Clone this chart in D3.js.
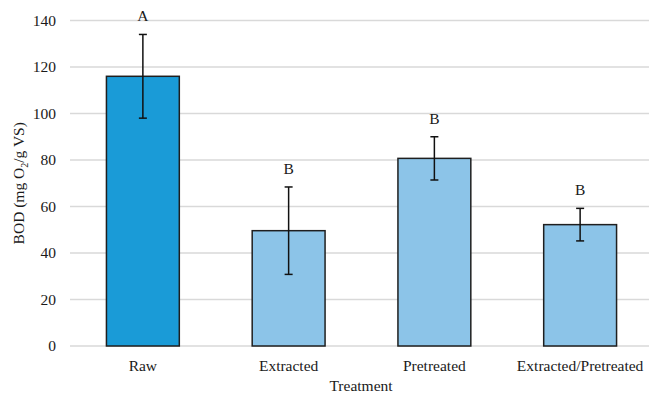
<!DOCTYPE html>
<html>
<head>
<meta charset="utf-8">
<script src="https://cdn.jsdelivr.net/npm/d3@7"></script>
<style>
  body { margin: 0; background: #fff; }
  text { font-family: "Liberation Serif", "Times New Roman", serif; fill: #1a1a1a; }
</style>
</head>
<body>
<svg></svg>
<script>
var screen = {width: 649, height: 394};
var margins = {top: 20.5, right: -4, bottom: 48, left: 70};

// data
var treatments = ["Raw", "Extracted", "Pretreated", "Extracted/Pretreated"];
var bod = [116, 49.6, 80.7, 52.2];
var errs = [18, 18.8, 9.3, 7];
var letters = ["A", "B", "B", "B"];
var yTicks = [0, 20, 40, 60, 80, 100, 120, 140];

var svg = d3.select("svg")
    .attr("width", screen.width)
    .attr("height", screen.height);

var width = screen.width - margins.left - margins.right;
var height = screen.height - margins.top - margins.bottom;

var xScale = d3.scaleBand()
    .domain(treatments)
    .range([0, width])
    .paddingInner(0.5)
    .paddingOuter(0.25);

var yScale = d3.scaleLinear()
    .domain([0, 140])
    .range([height, 0]);

var g = svg.append("g")
    .attr("transform", "translate(" + margins.left + "," + margins.top + ")");

// gridlines
g.append("g").selectAll("line")
    .data(yTicks)
    .enter().append("line")
    .attr("x1", 0)
    .attr("x2", width)
    .attr("y1", function(d) { return yScale(d); })
    .attr("y2", function(d) { return yScale(d); })
    .attr("stroke", "#d9d9d9")
    .attr("stroke-width", 1.5);

// y axis labels
var yAxis = d3.axisLeft(yScale).tickValues(yTicks).tickSize(0).tickPadding(14);
g.append("g")
    .call(yAxis)
    .call(function(a) { a.select(".domain").remove(); })
    .selectAll("text")
    .attr("font-size", 15.5)
    .style("font-family", "'Liberation Serif', serif")
    .attr("fill", "#1a1a1a");

// bars
g.append("g").selectAll("rect")
    .data(treatments)
    .enter().append("rect")
    .attr("x", function(d) { return xScale(d); })
    .attr("y", function(d, i) { return yScale(bod[i]); })
    .attr("width", xScale.bandwidth())
    .attr("height", function(d, i) { return height - yScale(bod[i]); })
    .attr("fill", function(d, i) { return i == 0 ? "#1a9bd7" : "#8cc4e8"; })
    .attr("stroke", "#1f1f1f")
    .attr("stroke-width", 1.5);

// error bars
var eb = g.append("g").selectAll("g")
    .data(treatments)
    .enter().append("g")
    .attr("transform", function(d) { return "translate(" + (xScale(d) + xScale.bandwidth() / 2) + ",0)"; });

eb.append("line")
    .attr("y1", function(d, i) { return yScale(bod[i] + errs[i]); })
    .attr("y2", function(d, i) { return yScale(bod[i] - errs[i]); })
    .attr("stroke", "#111")
    .attr("stroke-width", 1.5);

eb.append("line")
    .attr("x1", -4).attr("x2", 4)
    .attr("y1", function(d, i) { return yScale(bod[i] + errs[i]); })
    .attr("y2", function(d, i) { return yScale(bod[i] + errs[i]); })
    .attr("stroke", "#111")
    .attr("stroke-width", 1.5);

eb.append("line")
    .attr("x1", -4).attr("x2", 4)
    .attr("y1", function(d, i) { return yScale(bod[i] - errs[i]); })
    .attr("y2", function(d, i) { return yScale(bod[i] - errs[i]); })
    .attr("stroke", "#111")
    .attr("stroke-width", 1.5);

// significance letters
eb.append("text")
    .attr("y", function(d, i) { return yScale(bod[i] + errs[i]) - 13; })
    .attr("text-anchor", "middle")
    .attr("font-size", 15.5)
    .text(function(d, i) { return letters[i]; });

// x labels
g.append("g").selectAll("text")
    .data(treatments)
    .enter().append("text")
    .attr("x", function(d) { return xScale(d) + xScale.bandwidth() / 2; })
    .attr("y", height + 25)
    .attr("text-anchor", "middle")
    .attr("font-size", 15.5)
    .text(function(d) { return d; });

// axis titles
g.append("text")
    .attr("x", 288 - margins.left + 73)
    .attr("y", height + 44.5)
    .attr("text-anchor", "middle")
    .attr("font-size", 15.5)
    .text("Treatment");

var yt = svg.append("text")
    .attr("transform", "translate(24," + (margins.top + height / 2) + ") rotate(-90)")
    .attr("text-anchor", "middle")
    .attr("font-size", 15.5);
yt.append("tspan").text("BOD (mg O");
yt.append("tspan").attr("font-size", 10).attr("dy", 4).text("2");
yt.append("tspan").attr("dy", -4).text("/g VS)");
</script>
</body>
</html>
